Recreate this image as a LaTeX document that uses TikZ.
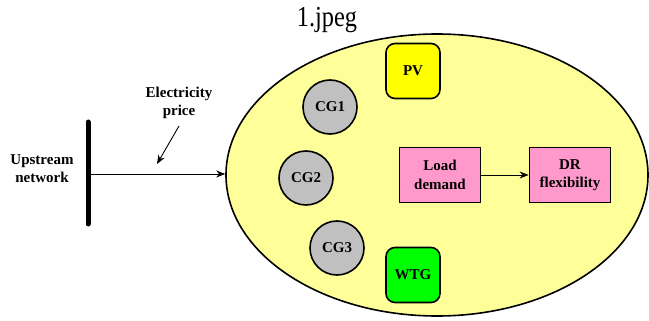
\documentclass[tikz,border=0pt]{standalone}
\usepackage{fontspec}
\setmainfont{Liberation Serif}
\newfontfamily\titlefont[FakeStretch=0.84]{Liberation Serif}
\usetikzlibrary{arrows.meta,shapes.geometric}
\definecolor{ellfill}{RGB}{255,255,153}
\definecolor{pvfill}{RGB}{255,255,0}
\definecolor{cgfill}{RGB}{192,192,192}
\definecolor{wtgfill}{RGB}{0,255,0}
\definecolor{pinkfill}{RGB}{255,153,204}
\tikzset{
  lbl/.style={font=\fontsize{15}{18}\selectfont\bfseries, align=center, inner sep=0pt},
  cg/.style={circle, draw, line width=1.6pt, fill=cgfill, minimum size=54pt, inner sep=0pt, font=\fontsize{15}{18}\selectfont\bfseries},
  src/.style={draw, line width=1.6pt, rounded corners=9pt, minimum width=54pt, minimum height=55pt, inner sep=0pt, font=\fontsize{15}{18}\selectfont\bfseries},
  pbox/.style={draw, line width=1.8pt, fill=pinkfill, minimum width=81pt, minimum height=55pt, inner sep=0pt, align=center, font=\fontsize{15}{18.5}\selectfont\bfseries},
  arr/.style={-{Stealth[length=9pt,width=7pt]}, line width=0.9pt}
}
\begin{document}
\begin{tikzpicture}[x=1pt,y=-1pt]
\useasboundingbox (0,0) rectangle (649,321);
\node[font=\titlefont\fontsize{29}{32}\selectfont, inner sep=0pt, anchor=base] (title) at (327,27) {1.jpeg};
\node[ellipse, draw, line width=1.6pt, fill=ellfill, minimum width=422pt, minimum height=282pt, inner sep=0pt] (micro) at (437,175) {};
\draw[line width=5pt, line cap=round] (88,122) coordinate (bustop) -- (88,224) coordinate (busbot);
\coordinate (busmid) at (88,174);
\node[lbl] (up) at (42,169) {Upstream\\network};
\node[lbl] (price) at (179,103) {Electricity\\price};
\draw[arr] (busmid) -- (micro.west |- busmid);
\coordinate (pa) at (179,126);
\coordinate (pb) at (157,164);
\draw[arr] (pa) -- (pb);
\node[src, fill=pvfill] (pv) at (413,71) {PV};
\node[src, fill=wtgfill] (wtg) at (413,275) {WTG};
\node[cg] (cg1) at (330,107) {CG1};
\node[cg] (cg2) at (306,178) {CG2};
\node[cg] (cg3) at (337,248) {CG3};
\node[pbox] (load) at (440,175) {Load\\demand};
\node[pbox] (dr) at (570,175) {DR\\flexibility};
\draw[arr] (load) -- (dr);
\end{tikzpicture}
\end{document}
